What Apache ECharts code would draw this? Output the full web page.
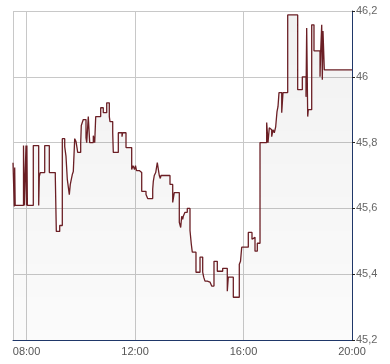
<!DOCTYPE html>
<html>
<head>
<meta charset="utf-8">
<script src="https://cdn.jsdelivr.net/npm/echarts@6/dist/echarts.min.js"></script>
<style>
html,body{margin:0;padding:0;background:#fff;}
#chart{width:390px;height:364px;}
</style>
</head>
<body>
<div id="chart"></div>
<script>
const times = [
"07:30:00","07:32:50","07:33:45","07:34:50","07:53:15","07:55:00","07:58:45","07:59:50","08:00:45","08:01:50",
"08:14:55","08:26:50","08:28:10","08:30:25","08:40:10","08:50:20","09:03:35","09:05:50","09:13:20","09:19:05",
"09:24:25","09:27:15","09:30:10","09:34:35","09:36:45","09:39:00","09:41:10","09:43:25","09:46:30","09:49:25",
"09:51:35","09:53:10","09:59:45","10:01:05","10:05:30","10:11:30","10:13:05","10:16:35","10:19:40","10:27:40",
"10:30:45","10:33:00","10:44:00","10:49:45","10:57:20","11:03:05","11:04:35","11:10:35","11:11:55","11:23:00",
"11:31:10","11:32:40","11:40:00","11:52:35","11:55:30","11:58:50","12:01:00","12:03:15","12:09:25","12:14:45",
"12:24:15","12:28:00","12:39:05","12:40:25","12:42:35","12:45:45","12:49:15","12:53:40","12:55:55","12:57:25",
"13:17:20","13:23:20","13:26:50","13:37:55","13:41:00","13:43:15","13:45:25","13:46:45","13:50:30","13:55:35",
"14:01:35","14:04:30","14:06:40","14:14:50","14:23:45","14:29:40","14:31:55","14:34:45","14:39:50","14:45:50",
"14:49:35","14:54:40","15:02:00","15:13:55","15:24:05","15:26:20","15:37:25","15:50:40","15:53:20","15:56:00",
"16:10:35","16:18:45","16:22:05","16:25:25","16:30:30","16:36:30","16:51:15","16:54:10","16:57:00","16:59:15",
"17:02:20","17:05:15","17:08:05","17:11:10","17:14:05","17:16:15","17:18:30","17:24:30","17:27:20","17:37:45",
"17:59:50","18:10:05","18:18:15","18:19:45","18:22:00","18:23:20","18:30:50","18:35:55","18:49:15","18:50:45",
"18:53:00","18:54:20","18:55:50","18:58:45","20:00:00"
];
const prices = [
45.739,45.606,45.724,45.609,45.791,45.609,45.791,45.609,45.791,45.609,
45.791,45.609,45.697,45.709,45.791,45.709,45.697,45.530,45.548,45.812,
45.788,45.758,45.688,45.642,45.673,45.688,45.703,45.712,45.812,45.803,
45.785,45.770,45.797,45.852,45.870,45.815,45.800,45.879,45.800,45.821,
45.800,45.879,45.906,45.891,45.921,45.879,45.864,45.830,45.770,45.830,
45.818,45.830,45.785,45.718,45.730,45.718,45.730,45.715,45.709,45.652,
45.642,45.630,45.658,45.682,45.700,45.709,45.739,45.700,45.691,45.700,
45.673,45.618,45.648,45.558,45.542,45.576,45.567,45.576,45.588,45.600,
45.533,45.491,45.467,45.406,45.452,45.406,45.391,45.379,45.376,45.370,
45.364,45.439,45.409,45.418,45.348,45.391,45.330,45.430,45.439,45.482,
45.527,45.506,45.512,45.470,45.494,45.800,45.861,45.800,45.845,45.839,
45.818,45.839,45.830,45.848,45.894,45.909,45.952,45.891,45.952,46.188,
45.961,46.000,45.939,46.148,45.879,45.900,46.158,46.079,46.000,46.079,
46.158,45.991,46.139,46.021,46.021
];
const xTickLabels = ["08:00","12:00","16:00","20:00"];
const verticalGridTimes = ["07:30","08:00","12:00","16:00"];
const xRange = ["07:30","20:00"];
const yRange = [45.2, 46.2];

function toMin(s){ const p = s.split(':').map(Number); return p[0]*60 + p[1] + (p[2]||0)/60; }
function fmtMin(v){ const h = Math.floor(v/60), m = Math.round(v%60); return String(h).padStart(2,'0')+':'+String(m).padStart(2,'0'); }

const data = times.map((t,i)=>[toMin(t), prices[i]]);
const chart = echarts.init(document.getElementById('chart'), null, {renderer:'canvas'});
const font = 'Liberation Sans, Arial, sans-serif';
chart.setOption({
  animation:false,
  grid:{left:13,right:38,top:11,bottom:24,show:false},
  xAxis:{
    type:'value', min:toMin(xRange[0]), max:toMin(xRange[1]), interval:30,
    axisLine:{show:true,onZero:false,lineStyle:{color:'#1f3769',width:1}},
    axisTick:{show:false},
    splitLine:{show:false},
    axisLabel:{
      showMinLabel:true, showMaxLabel:true,
      formatter:function(v){ const s = fmtMin(v); return xTickLabels.indexOf(s)>=0 ? s : ''; },
      color:'#555', fontSize:11, fontFamily:font, margin:6
    }
  },
  yAxis:{
    type:'value', position:'right', min:yRange[0], max:yRange[1], interval:0.2,
    axisLine:{show:true,onZero:false,lineStyle:{color:'#1f3769',width:1}},
    axisTick:{show:true,inside:false,length:3,lineStyle:{color:'#222'}},
    splitLine:{show:true,lineStyle:{color:'#c8c8c8',width:1}},
    axisLabel:{
      formatter:function(v){ return String(+(+v).toFixed(1)).replace('.',','); },
      color:'#666', fontSize:11, fontFamily:font, margin:4
    }
  },
  series:[{
    type:'line', step:'end', data:data, symbol:'none', showSymbol:false, z:2,
    lineStyle:{color:'#6b1f25',width:1.3},
    areaStyle:{color:new echarts.graphic.LinearGradient(0,0,0,1,[
      {offset:0,color:'rgba(0,0,0,0.08)'},{offset:1,color:'rgba(0,0,0,0.025)'}
    ])},
    markLine:{
      silent:true, symbol:'none', z:1, animation:false,
      label:{show:false},
      lineStyle:{color:'#c8c8c8',type:'solid',width:1},
      emphasis:{disabled:true},
      data:verticalGridTimes.map(t=>({xAxis:toMin(t)}))
    }
  }]
});
</script>
</body>
</html>
